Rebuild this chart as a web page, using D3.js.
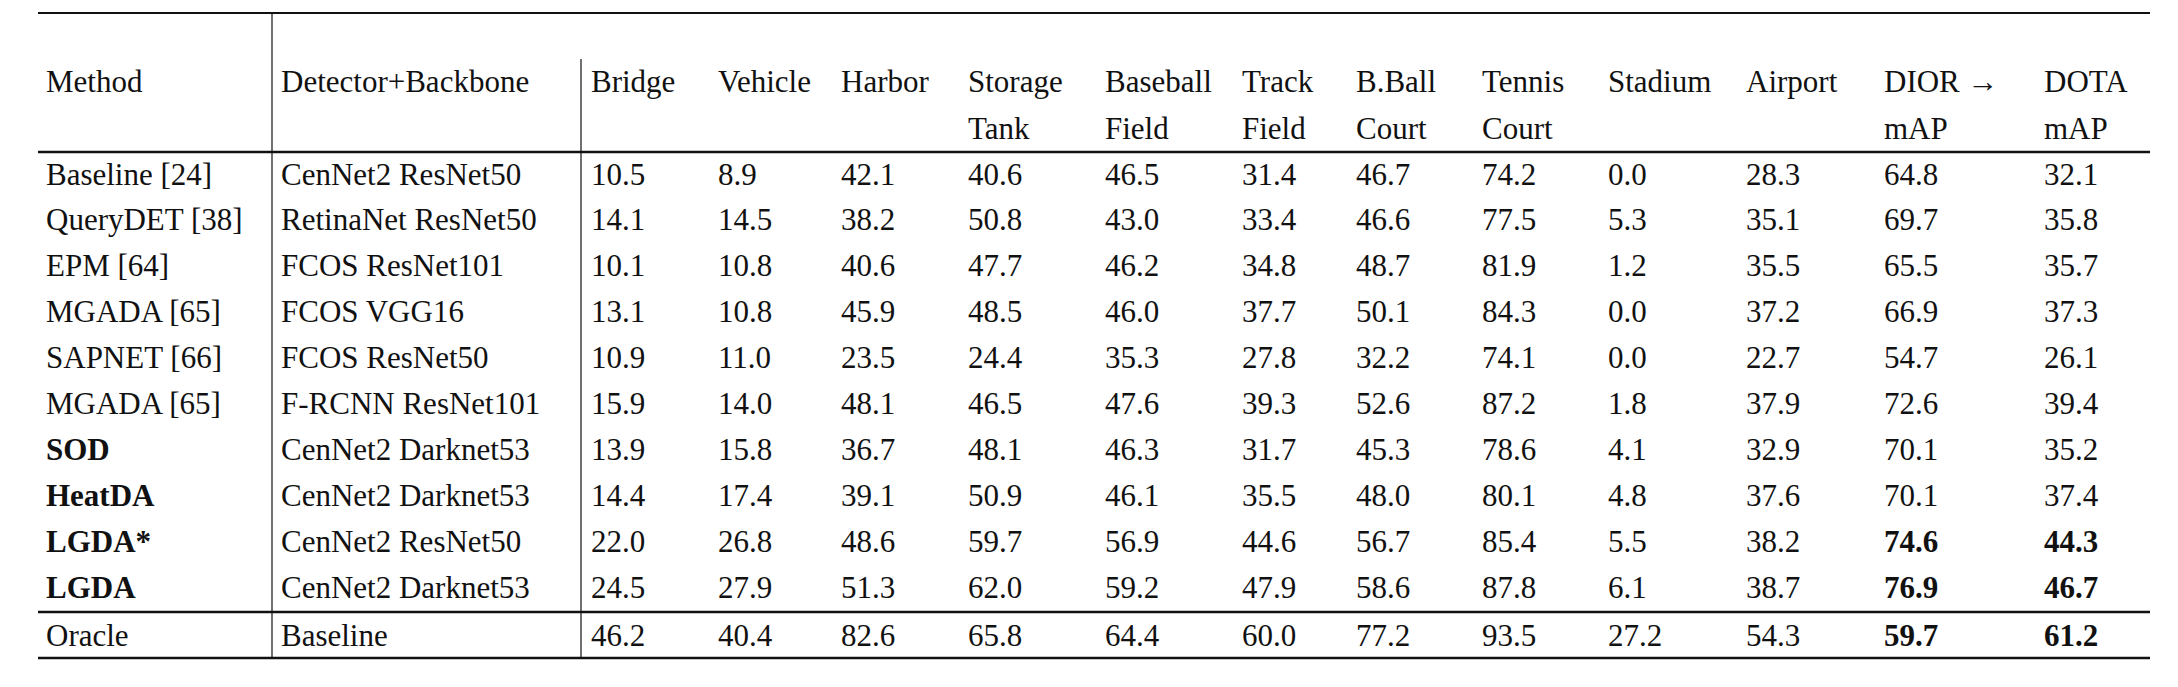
<!DOCTYPE html>
<html><head><meta charset="utf-8">
<script src="https://cdn.jsdelivr.net/npm/d3@7"></script>
<style>body{margin:0;background:#fff} svg text{font-family:"Liberation Serif","Times New Roman",Times,"DejaVu Serif",serif;font-size:31px}</style>
</head><body><svg></svg>
<script>
// Data
const headers = [["Method"], ["Detector+Backbone"], ["Bridge"], ["Vehicle"], ["Harbor"], ["Storage", "Tank"],
  ["Baseball", "Field"], ["Track", "Field"], ["B.Ball", "Court"], ["Tennis", "Court"], ["Stadium"], ["Airport"],
  ["DIOR \u2192", "mAP"], ["DOTA", "mAP"]];
const methods = ["Baseline [24]", "QueryDET [38]", "EPM [64]", "MGADA [65]", "SAPNET [66]", "MGADA [65]", "SOD", "HeatDA", "LGDA*", "LGDA", "Oracle"];
const boldMethods = ["SOD", "HeatDA", "LGDA*", "LGDA"];
const detectors = ["CenNet2 ResNet50", "RetinaNet ResNet50", "FCOS ResNet101", "FCOS VGG16", "FCOS ResNet50", "F-RCNN ResNet101",
  "CenNet2 Darknet53", "CenNet2 Darknet53", "CenNet2 ResNet50", "CenNet2 Darknet53", "Baseline"];
const values = [
  [10.5, 8.9, 42.1, 40.6, 46.5, 31.4, 46.7, 74.2, 0.0, 28.3, 64.8, 32.1],
  [14.1, 14.5, 38.2, 50.8, 43.0, 33.4, 46.6, 77.5, 5.3, 35.1, 69.7, 35.8],
  [10.1, 10.8, 40.6, 47.7, 46.2, 34.8, 48.7, 81.9, 1.2, 35.5, 65.5, 35.7],
  [13.1, 10.8, 45.9, 48.5, 46.0, 37.7, 50.1, 84.3, 0.0, 37.2, 66.9, 37.3],
  [10.9, 11.0, 23.5, 24.4, 35.3, 27.8, 32.2, 74.1, 0.0, 22.7, 54.7, 26.1],
  [15.9, 14.0, 48.1, 46.5, 47.6, 39.3, 52.6, 87.2, 1.8, 37.9, 72.6, 39.4],
  [13.9, 15.8, 36.7, 48.1, 46.3, 31.7, 45.3, 78.6, 4.1, 32.9, 70.1, 35.2],
  [14.4, 17.4, 39.1, 50.9, 46.1, 35.5, 48.0, 80.1, 4.8, 37.6, 70.1, 37.4],
  [22.0, 26.8, 48.6, 59.7, 56.9, 44.6, 56.7, 85.4, 5.5, 38.2, 74.6, 44.3],
  [24.5, 27.9, 51.3, 62.0, 59.2, 47.9, 58.6, 87.8, 6.1, 38.7, 76.9, 46.7],
  [46.2, 40.4, 82.6, 65.8, 64.4, 60.0, 77.2, 93.5, 27.2, 54.3, 59.7, 61.2]
];
const boldRows = [8, 9, 10]; // last two columns bold in these rows

const colX = [46, 281, 591, 718, 841, 968, 1105, 1242, 1356, 1482, 1608, 1746, 1884, 2044];
const width = 2178, height = 687;
const svg = d3.select("svg").attr("width", width).attr("height", height);

const y = d3.scaleLinear().domain([0, 9]).range([174, 587]);
const rowY = i => i < 10 ? y(i) : 635;

// lines
const line = (x1, y1, x2, y2, w) => svg.append("line").attr("x1", x1).attr("y1", y1).attr("x2", x2).attr("y2", y2)
  .attr("stroke", "#111").attr("stroke-width", w);
line(38, 13, 2150, 13, 2);
line(38, 152, 2150, 152, 2.5);
line(38, 612, 2150, 612, 2.5);
line(38, 658, 2150, 658, 2.5);
line(272, 13, 272, 658, 1.2);
line(581, 59, 581, 658, 1.2);

// headers
headers.forEach((h, c) => h.forEach((t, k) => svg.append("text").attr("x", colX[c]).attr("y", 81 + k * 47)
  .attr("dominant-baseline", "central").attr("fill", "#111").text(t)));

// rows
methods.forEach((m, i) => {
  const g = svg.append("g").attr("fill", "#111");
  g.append("text").attr("x", colX[0]).attr("y", rowY(i)).attr("dominant-baseline", "central")
    .attr("font-weight", boldMethods.includes(m) ? "bold" : null).text(m);
  g.append("text").attr("x", colX[1]).attr("y", rowY(i)).attr("dominant-baseline", "central").text(detectors[i]);
  values[i].forEach((v, j) => g.append("text").attr("x", colX[j + 2]).attr("y", rowY(i))
    .attr("dominant-baseline", "central")
    .attr("font-weight", boldRows.includes(i) && j >= 10 ? "bold" : null)
    .text(v.toFixed(1)));
});
</script></body></html>
